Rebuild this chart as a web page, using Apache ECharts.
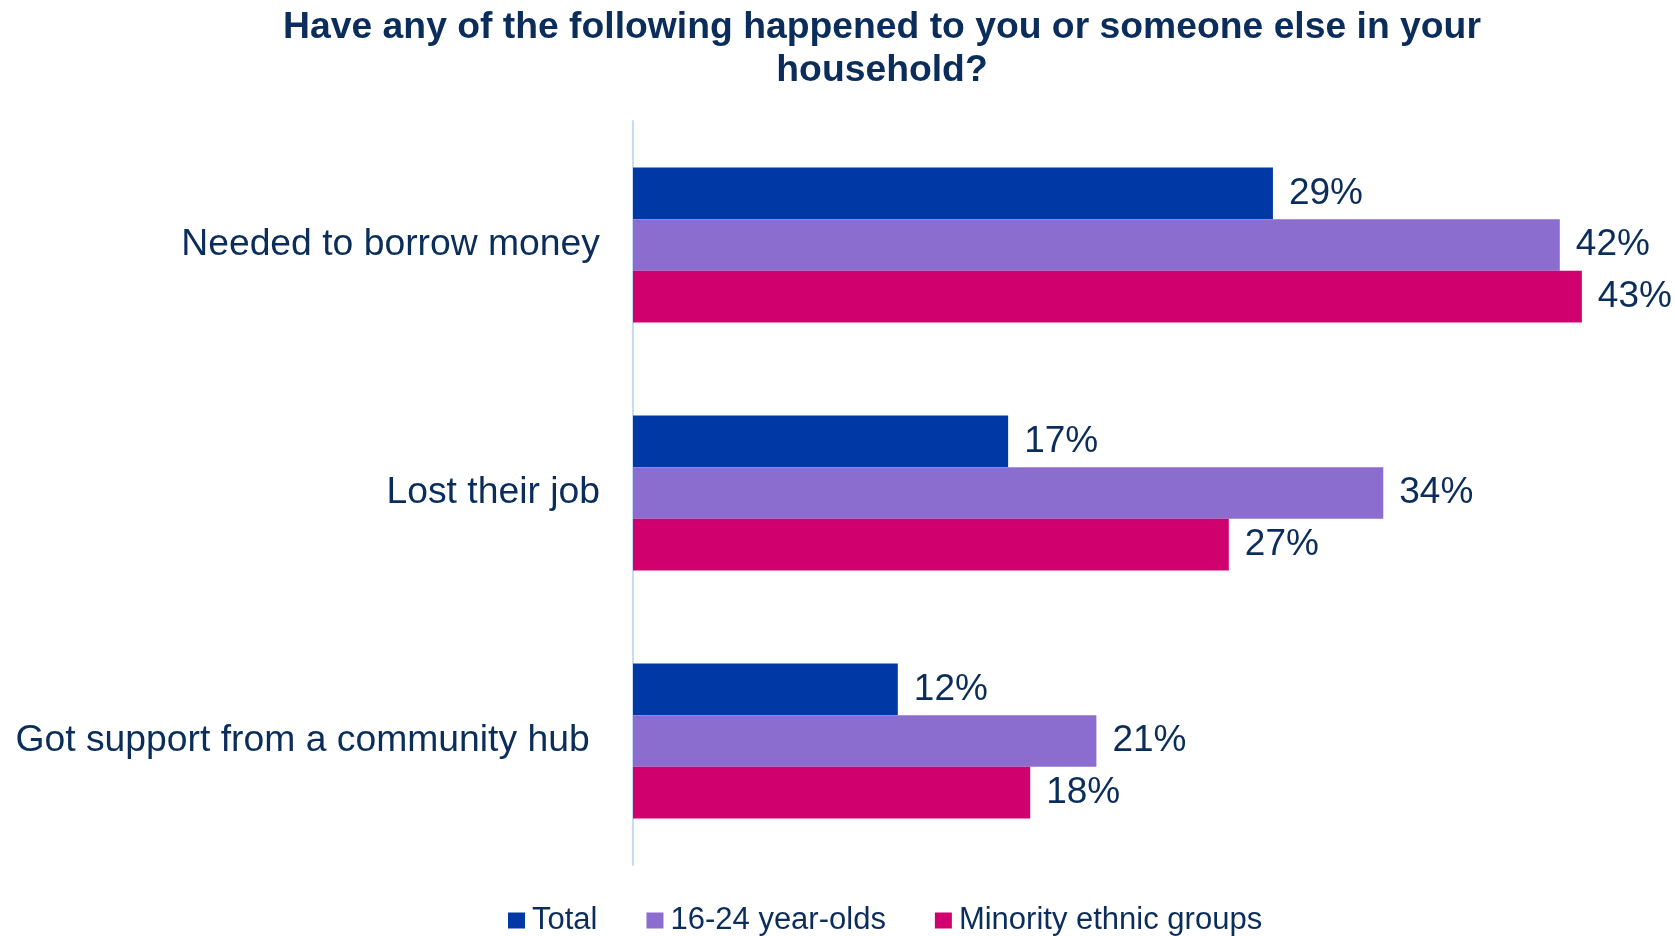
<!DOCTYPE html>
<html>
<head>
<meta charset="utf-8">
<script src="https://cdn.jsdelivr.net/npm/echarts@6/dist/echarts.min.js"></script>
<style>
  html, body { margin: 0; padding: 0; background: #ffffff; }
  #chart { width: 1675px; height: 936px; }
</style>
</head>
<body>
<div id="chart"></div>
<script>
// Survey answers, one bar per group within each category
const categories = ['Needed to borrow money', 'Lost their job', 'Got support from a community hub '];
const seriesNames = ['Total', '16-24 year-olds', 'Minority ethnic groups'];
const totalValues = [29, 17, 12];
const youngValues = [42, 34, 21];
const minorityValues = [43, 27, 18];

const seriesValues = [totalValues, youngValues, minorityValues];
const seriesColors = ['#0039A6', '#8B6DCF', '#D1006F'];
const textColor = '#0B2D5B';
const fontFamily = 'Liberation Sans, Arial, sans-serif';

const chart = echarts.init(document.getElementById('chart'), null, { renderer: 'canvas' });

chart.setOption({
  backgroundColor: '#ffffff',
  animation: false,
  textStyle: { fontFamily: fontFamily },
  title: {
    text: 'Have any of the following happened to you or someone else in your\nhousehold?',
    left: 877,
    top: 1,
    textAlign: 'center',
    textStyle: {
      fontFamily: fontFamily,
      fontSize: 37.3,
      fontWeight: 'bold',
      color: textColor,
      lineHeight: 43
    }
  },
  legend: {
    data: seriesNames,
    left: 503,
    top: 900,
    itemWidth: 17,
    itemHeight: 16,
    itemGap: 49,
    icon: 'rect',
    textStyle: {
      fontFamily: fontFamily,
      fontSize: 31,
      color: textColor,
      padding: [0, 0, 0, 2]
    }
  },
  grid: {
    left: 633,
    right: 49,
    top: 121,
    bottom: 71,
    containLabel: false
  },
  xAxis: {
    type: 'value',
    min: 0,
    max: 45,
    show: false
  },
  yAxis: {
    type: 'category',
    data: categories,
    inverse: true,
    axisLine: { show: true, lineStyle: { color: '#C6DDF7', width: 2 } },
    axisTick: { show: false },
    axisLabel: {
      fontFamily: fontFamily,
      fontSize: 37.3,
      color: textColor,
      margin: 33
    }
  },
  series: seriesNames.map((name, i) => ({
    name: name,
    type: 'bar',
    data: seriesValues[i],
    barGap: '0%',
    barCategoryGap: '37.5%',
    itemStyle: { color: seriesColors[i] },
    label: {
      show: true,
      position: 'right',
      distance: 16,
      formatter: '{c}%',
      fontFamily: fontFamily,
      fontSize: 37,
      color: textColor
    }
  }))
});
</script>
</body>
</html>
